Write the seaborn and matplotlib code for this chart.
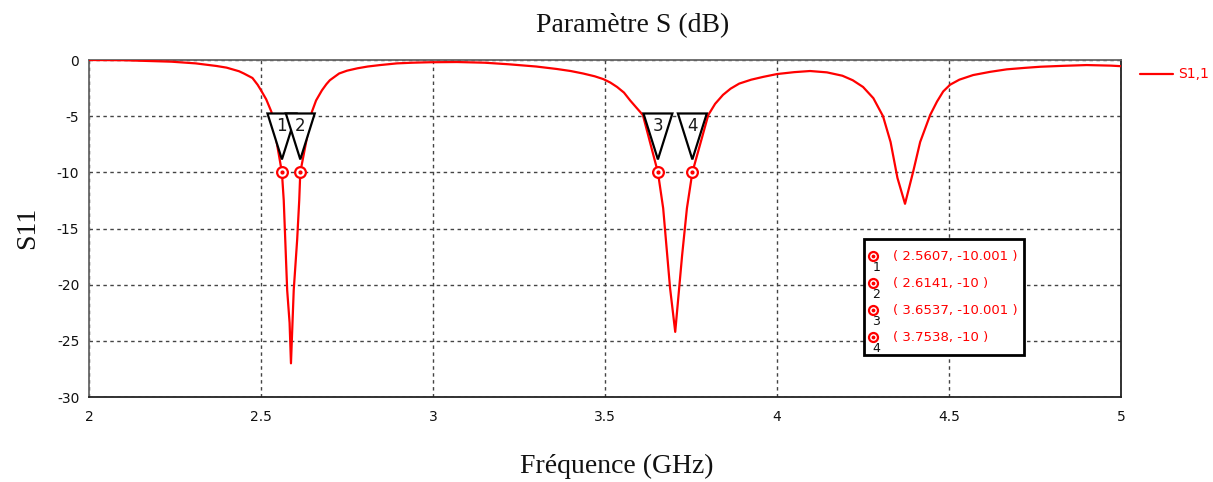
import numpy as np
import pandas as pd
import matplotlib
matplotlib.use("Agg")
import matplotlib.pyplot as plt
from matplotlib import font_manager
from matplotlib.patches import Polygon, Rectangle
import seaborn as sns

# S11 sweep (GHz, dB)
freq_ghz = [2.00, 2.10, 2.24, 2.31, 2.37, 2.40, 2.436, 2.45, 2.475, 2.49, 2.50, 2.515,
            2.53, 2.5607, 2.566, 2.576, 2.583, 2.587, 2.595, 2.605, 2.611, 2.6141,
            2.648, 2.66, 2.677, 2.69, 2.70, 2.727, 2.75, 2.78, 2.81, 2.846, 2.895,
            2.94, 2.99, 3.07, 3.15, 3.22, 3.30, 3.36, 3.40, 3.436, 3.47, 3.495,
            3.515, 3.535, 3.555, 3.573, 3.59, 3.61, 3.6537, 3.669, 3.689, 3.704,
            3.724, 3.738, 3.7538, 3.80, 3.82, 3.843, 3.865, 3.89, 3.925, 3.96,
            4.00, 4.05, 4.096, 4.145, 4.19, 4.22, 4.25, 4.28, 4.308, 4.33, 4.35,
            4.372, 4.396, 4.416, 4.445, 4.465, 4.483, 4.503, 4.53, 4.57, 4.62,
            4.668, 4.72, 4.765, 4.83, 4.90, 4.97, 5.00]
s11_db = [0.0, -0.02, -0.15, -0.3, -0.53, -0.68, -1.0, -1.2, -1.6, -2.2, -2.7, -3.5,
          -4.6, -10.001, -12.5, -20.5, -23.4, -27.0, -20.5, -16.0, -12.5, -10.0,
          -4.6, -3.6, -2.7, -2.15, -1.8, -1.2, -0.95, -0.74, -0.58, -0.45, -0.3,
          -0.24, -0.2, -0.18, -0.24, -0.38, -0.58, -0.8, -0.98, -1.2, -1.45, -1.7,
          -2.0, -2.4, -2.9, -3.6, -4.2, -4.9, -10.001, -13.2, -20.3, -24.2,
          -17.4, -13.2, -10.0, -4.9, -3.9, -3.1, -2.55, -2.1, -1.75, -1.5,
          -1.25, -1.08, -0.98, -1.1, -1.4, -1.8, -2.4, -3.4, -5.0, -7.3, -10.5,
          -12.8, -9.9, -7.3, -4.9, -3.7, -2.8, -2.2, -1.75, -1.34, -1.05,
          -0.83, -0.7, -0.6, -0.52, -0.45, -0.5, -0.55]

# -10 dB markers
marker_ids = ["1", "2", "3", "4"]
marker_freq = [2.5607, 2.6141, 3.6537, 3.7538]
marker_db = [-10.001, -10.0, -10.001, -10.0]
marker_labels = ["( 2.5607, -10.001 )", "( 2.6141, -10 )",
                 "( 3.6537, -10.001 )", "( 3.7538, -10 )"]

x_ticks = [2, 2.5, 3, 3.5, 4, 4.5, 5]
x_ticklabels = ["2", "2.5", "3", "3.5", "4", "4.5", "5"]
y_ticks = [0, -5, -10, -15, -20, -25, -30]

RED = "#ff0000"
installed = {f.name for f in font_manager.fontManager.ttflist}
narrow = "Liberation Sans Narrow" if "Liberation Sans Narrow" in installed else "DejaVu Sans"
serif = "Liberation Serif"

sns.set_theme(style="white")
plt.rcParams["font.family"] = ["DejaVu Sans"]

fig = plt.figure(figsize=(12.13, 4.82), dpi=100)
ax = fig.add_axes([0.0734, 0.1763, 0.9242 - 0.0734, 0.8755 - 0.1763])

df = pd.DataFrame({"f": freq_ghz, "s11": s11_db})
sns.lineplot(data=df, x="f", y="s11", ax=ax, color=RED, linewidth=1.6,
             estimator=None, sort=False, legend=False, zorder=3)

ax.set_xlim(2, 5)
ax.set_ylim(-30, 0)
ax.set_xticks(x_ticks)
ax.set_xticklabels(x_ticklabels, fontfamily=narrow, fontsize=10)
ax.set_yticks(y_ticks)
ax.set_yticklabels([str(v) for v in y_ticks], fontfamily=narrow, fontsize=10)
ax.tick_params(axis="both", which="both", length=4, width=1, color="#333333",
               direction="out", labelcolor="#111111")
ax.tick_params(axis="x", direction="inout", length=6, pad=6)
ax.tick_params(axis="y", pad=3)
ax.set_xlabel("")
ax.set_ylabel("")

ax.grid(True, color="#444444", linestyle=(0, (2.5, 2.5)), linewidth=1.0, zorder=1)
ax.set_axisbelow(True)
for side in ["left", "top"]:
    ax.spines[side].set_color("#666666")
for side in ["right", "bottom"]:
    ax.spines[side].set_color("#222222")
for s in ax.spines.values():
    s.set_linewidth(1.3)
    s.set_visible(True)

# Marker flags: inverted triangles whose tips sit above each -10 dB point
tri_half_w = 0.042
tri_top = -4.76
tri_tip = -8.85
for mid, mf in zip(marker_ids, marker_freq):
    poly = Polygon([(mf - tri_half_w, tri_top), (mf + tri_half_w, tri_top), (mf, tri_tip)],
                   closed=True, facecolor="white", edgecolor="black", linewidth=1.6, zorder=4)
    ax.add_patch(poly)
    ax.text(mf, (tri_top + tri_tip) / 2 + 0.9, mid, ha="center", va="center",
            fontsize=12, color="#1a1a1a", zorder=5)

ax.scatter(marker_freq, marker_db, s=60, facecolors="white", edgecolors=RED,
           linewidths=1.6, zorder=6)
ax.scatter(marker_freq, marker_db, s=4, color=RED, zorder=7)

# Marker readout box (axes fraction)
box = Rectangle(((864 - 89) / 1032, (397 - 355) / 337), (1024 - 864) / 1032, (355 - 239) / 337,
                transform=ax.transAxes, facecolor="white", edgecolor="black",
                linewidth=2.0, zorder=8)
ax.add_patch(box)
row_y = [256, 283, 310, 337]
for mid, lab, ry in zip(marker_ids, marker_labels, row_y):
    yy = (397 - ry) / 337
    xc = (873 - 89) / 1032
    ax.scatter([xc], [yy], s=42, facecolors="white", edgecolors=RED, linewidths=1.6,
               transform=ax.transAxes, zorder=9, clip_on=False)
    ax.scatter([xc], [yy], s=3, color=RED, transform=ax.transAxes, zorder=10, clip_on=False)
    ax.text(xc + 0.003, yy - 0.033, mid, transform=ax.transAxes, ha="center", va="center",
            fontsize=9, color="#111111", zorder=10)
    ax.text((893 - 89) / 1032, yy, lab, transform=ax.transAxes, ha="left", va="center",
            fontsize=9.5, color=RED, zorder=10)

# Series key outside the plot area
fig.add_artist(plt.Line2D([1140 / 1213, 1173 / 1213], [1 - 74 / 482, 1 - 74 / 482],
                          color=RED, linewidth=1.6))
fig.text(1178 / 1213, 1 - 74 / 482, "S1,1", color=RED, fontsize=10, fontfamily=narrow,
         ha="left", va="center")

fig.text(633 / 1213, 1 - 26 / 482, "Paramètre S (dB)", fontfamily=serif, fontsize=20,
         ha="center", va="center", color="#111111")
fig.text(617 / 1213, 1 - 466 / 482, "Fréquence (GHz)", fontfamily=serif, fontsize=20,
         ha="center", va="center", color="#111111")
fig.text(28 / 1213, 1 - 228 / 482, "S11", fontfamily=serif, fontsize=20, rotation=90,
         ha="center", va="center", color="#111111")

fig.savefig("out.png", dpi=100, facecolor="white")
